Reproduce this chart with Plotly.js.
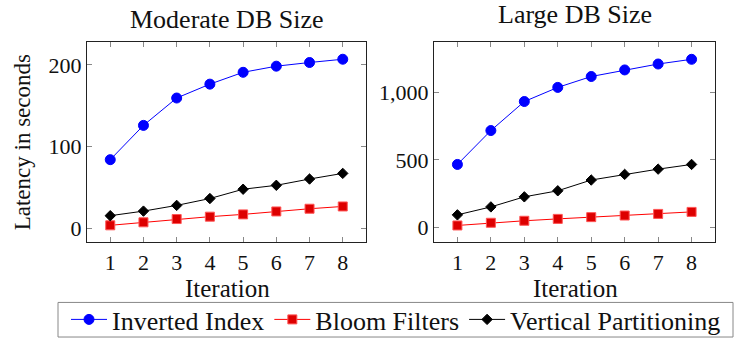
<!DOCTYPE html>
<html>
<head>
<meta charset="utf-8">
<script src="https://cdn.plot.ly/plotly-3.0.1.min.js"></script>
<style>html,body{margin:0;padding:0;background:#fff;}#chart{width:739px;height:343px;}</style>
</head>
<body>
<div id="chart"></div>
<script>
const iterations = [1, 2, 3, 4, 5, 6, 7, 8];
const seriesNames = ["Inverted Index", "Bloom Filters", "Vertical Partitioning"];
// Moderate DB Size
const moderateInverted = [84, 126, 159.5, 176.5, 191, 198.5, 203, 207];
const moderateBloom = [3.6, 7.3, 11.3, 14.2, 17, 20.6, 23.9, 26.7];
const moderateVertical = [15.4, 21, 28, 36.4, 47.8, 52.6, 60.3, 67.2];
// Large DB Size
const largeInverted = [466, 718, 934, 1039, 1120, 1169, 1213, 1248];
const largeBloom = [12, 32, 47, 61, 74, 86, 98, 113];
const largeVertical = [91, 150, 225, 270, 350, 392, 431, 466];
const panelTitles = ["Moderate DB Size", "Large DB Size"];
const xTitle = "Iteration";
const yTitle = "Latency in seconds";

const serif = "Liberation Serif";
const tickFont = {family: serif, size: 22, color: "#111"};
const styles = [
  {color: "#0000ff", symbol: "circle", size: 10, lineColor: "#0000ff"},
  {color: "#dd0000", symbol: "square", size: 9, lineColor: "#ff0000"},
  {color: "#000000", symbol: "diamond", size: 8, lineColor: "#000000"}
];
function mk(y, i, xa, ya, show) {
  const s = styles[i];
  return {
    x: iterations, y: y, type: "scatter", mode: "lines+markers",
    name: seriesNames[i], showlegend: show, xaxis: xa, yaxis: ya,
    line: {color: s.lineColor, width: 1},
    marker: {color: s.color, symbol: s.symbol, size: s.size,
             line: {color: i === 1 ? "#ff5555" : s.color, width: 1}}
  };
}
const data = [
  mk(moderateInverted, 0, "x", "y", true),
  mk(moderateBloom, 1, "x", "y", true),
  mk(moderateVertical, 2, "x", "y", true),
  mk(largeInverted, 0, "x2", "y2", false),
  mk(largeBloom, 1, "x2", "y2", false),
  mk(largeVertical, 2, "x2", "y2", false)
];
const W = 739, H = 343;
const px = v => v / W, py = v => 1 - v / H;
const axBase = {
  showline: true, mirror: "allticks", linecolor: "#222", linewidth: 1,
  ticks: "inside", ticklen: 5, tickcolor: "#888", tickwidth: 1,
  showgrid: false, zeroline: false, tickfont: tickFont, fixedrange: true
};
function ann(text, x, y, size, extra) {
  return Object.assign({text: text, x: px(x), y: py(y), xref: "paper", yref: "paper",
    xanchor: "center", yanchor: "middle", showarrow: false,
    font: {family: serif, size: size, color: "#111"}}, extra || {});
}
const layout = {
  width: W, height: H,
  margin: {l: 0, r: 0, t: 0, b: 0},
  paper_bgcolor: "#fff", plot_bgcolor: "#fff",
  xaxis: Object.assign({}, axBase, {domain: [px(87), px(366)], range: [0.3, 8.7], tickvals: iterations, anchor: "y"}),
  yaxis: Object.assign({}, axBase, {domain: [py(245), py(43)], range: [-17, 227.5], tickvals: [0, 100, 200], anchor: "x"}),
  xaxis2: Object.assign({}, axBase, {domain: [px(434), px(715)], range: [0.3, 8.7], tickvals: iterations, anchor: "y2"}),
  yaxis2: Object.assign({}, axBase, {domain: [py(245), py(43)], range: [-112, 1373], tickvals: [0, 500, 1000], tickformat: ",", anchor: "x2"}),
  showlegend: true,
  legend: {
    orientation: "h", x: px(66), y: py(323.5), xanchor: "left", yanchor: "middle",
    bgcolor: "rgba(0,0,0,0)", borderwidth: 0, font: {family: serif, size: 26, color: "#111"},
    itemwidth: 36, tracegroupgap: 0
  },
  shapes: [
    {type: "rect", xref: "paper", yref: "paper", x0: px(58), x1: px(733), y0: py(341), y1: py(306),
     line: {color: "#888", width: 1}, fillcolor: "rgba(0,0,0,0)", layer: "below"}
  ],
  annotations: [
    ann(panelTitles[0], 227, 20, 26),
    ann(panelTitles[1], 575, 15, 26),
    ann(xTitle, 227, 292, 25),
    ann(xTitle, 575, 292, 25),
    ann(yTitle, 22, 144, 23, {textangle: -90})
  ]
};
Plotly.newPlot("chart", data, layout, {displayModeBar: false, staticPlot: true});
</script>
</body>
</html>
